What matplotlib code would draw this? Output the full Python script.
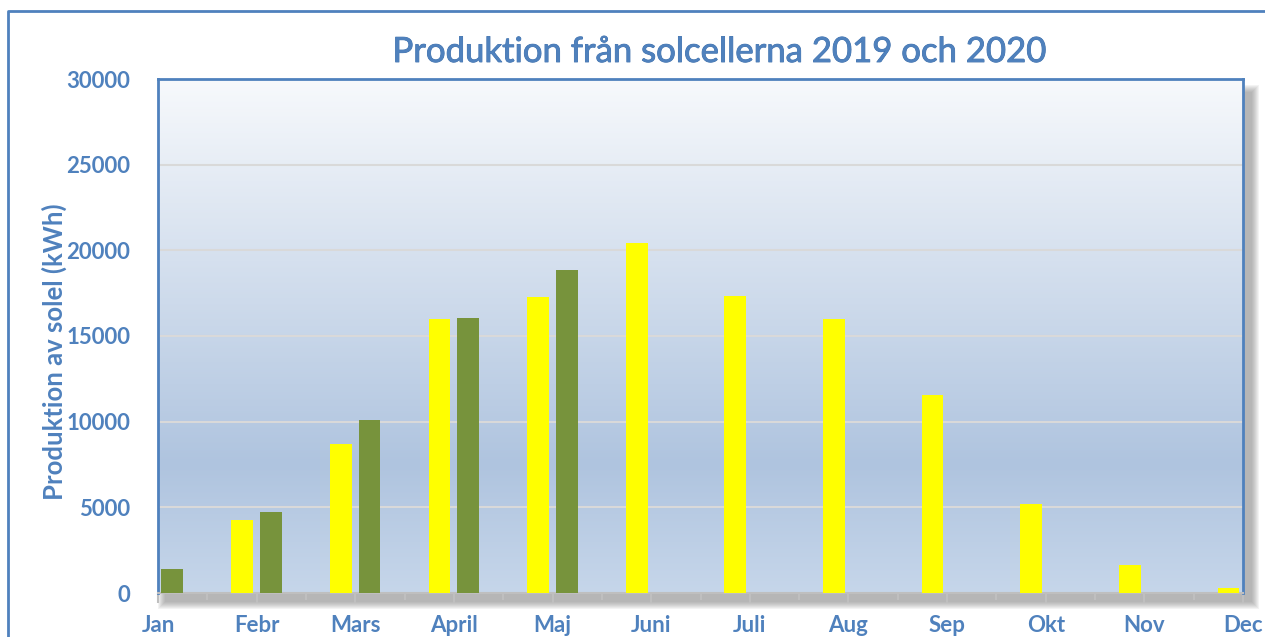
import numpy as np
import matplotlib.pyplot as plt
import matplotlib.patheffects as pe
from matplotlib.colors import LinearSegmentedColormap
from matplotlib.patches import Rectangle
from matplotlib.lines import Line2D
from matplotlib.ticker import MultipleLocator

# Data
manader = ['Jan', 'Febr', 'Mars', 'April', 'Maj', 'Juni', 'Juli', 'Aug', 'Sep', 'Okt', 'Nov', 'Dec']
prod_2019 = [0, 4250, 8700, 16000, 17300, 20400, 17350, 16000, 11550, 5200, 1630, 310]
prod_2020 = [1400, 4750, 10120, 16050, 18850, 0, 0, 0, 0, 0, 0, 0]

BLA = '#4F81BD'
W, H = 1265, 637

plt.rcParams['font.family'] = ['Lato', 'DejaVu Sans']

fig = plt.figure(figsize=(12.65, 6.37), dpi=100)

# axes area in pixels
x0, x1, ytop, ybot = 158, 1243, 79, 593
ax = fig.add_axes([x0 / W, 1 - ybot / H, (x1 - x0) / W, (ybot - ytop) / H])

# mjuk skugga
for i in range(8):
    grow = 8 - i
    fig.patches.append(Rectangle(((x0 + 8 - grow) / W, 1 - (ybot + 8 + grow) / H),
                                 (x1 - x0 + 2 * grow) / W, (ybot - ytop - 6 + 2 * grow) / H,
                                 transform=fig.transFigure, color='#7a7a7a',
                                 alpha=0.09, lw=0, zorder=-5))

# ram runt diagrammet
fig.lines.append(Line2D([8 / W, 8 / W, 1.0], [0, 1 - 11 / H, 1 - 11 / H],
                        transform=fig.transFigure, color=BLA, lw=2))

# bakgrund med gradient
cmap = LinearSegmentedColormap.from_list('bg', [(0, '#C6D6EA'), (0.25, '#AFC4DF'), (1, '#F7F9FC')])
grad = np.linspace(0, 1, 256).reshape(-1, 1)
ax.imshow(grad, aspect='auto', cmap=cmap, origin='lower',
          extent=[0, 11, 0, 30000], zorder=0)

x = np.arange(len(manader))
bw = 0.22
ax.bar(x - 0.147, prod_2019, bw, color='#FFFF00', zorder=3)
ax.bar(x + 0.143, prod_2020, bw, color='#77933C', zorder=3)

ax.set_xlim(0, 11)
ax.set_ylim(0, 30000)
ax.yaxis.set_major_locator(MultipleLocator(5000))
ax.grid(axis='y', color='#D9D9D9', lw=1.5, zorder=1)
ax.set_axisbelow(True)

ax.set_xticks(x)
ax.set_xticklabels(manader)
ax.xaxis.set_minor_locator(MultipleLocator(0.5))
ax.tick_params(axis='x', which='both', color='#BFBFBF', width=1.5, direction='out')
ax.tick_params(axis='x', which='major', length=7, pad=9)
ax.tick_params(axis='x', which='minor', length=5)
ax.tick_params(axis='y', length=0, pad=20)
for lab in ax.get_xticklabels() + ax.get_yticklabels():
    lab.set_color(BLA)
    lab.set_fontweight('bold')
    lab.set_fontsize(16)

for s in ['left', 'top', 'right']:
    ax.spines[s].set_color(BLA)
    ax.spines[s].set_linewidth(2)
ax.spines['bottom'].set_color('#BFBFBF')
ax.spines['bottom'].set_linewidth(1.5)

ax.set_ylabel('Produktion av solel (kWh)', color=BLA, fontsize=18.5, fontweight='bold')
ax.yaxis.set_label_coords(-0.084, 0.469)
fig.text(720 / W, 1 - 52 / H, 'Produktion från solcellerna 2019 och 2020',
         ha='center', va='center', color=BLA, fontsize=25,
         path_effects=[pe.withStroke(linewidth=0.6, foreground='#3E6FAA')])

fig.savefig('out.png', dpi=100)
